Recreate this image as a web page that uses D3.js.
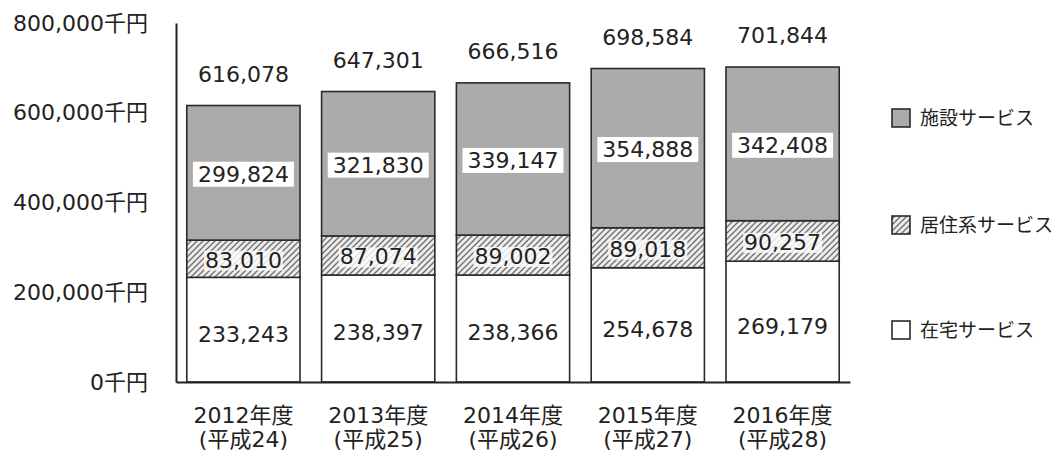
<!DOCTYPE html>
<html>
<head>
<meta charset="utf-8">
<script src="https://cdn.jsdelivr.net/npm/d3@7"></script>
<style>
  body { margin: 0; background: #fff; }
  text { font-family: "DejaVu Sans", "Noto Sans CJK JP", sans-serif; fill: #222; }
</style>
</head>
<body>
<div id="chart"></div>
<script>
var years = ["2012年度", "2013年度", "2014年度", "2015年度", "2016年度"];
var eras = ["(平成24)", "(平成25)", "(平成26)", "(平成27)", "(平成28)"];
var zaitaku = [233243, 238397, 238366, 254678, 269179];
var kyojuu = [83010, 87074, 89002, 89018, 90257];
var shisetsu = [299824, 321830, 339147, 354888, 342408];
var totals = [616078, 647301, 666516, 698584, 701844];
var seriesNames = ["在宅サービス", "居住系サービス", "施設サービス"];
var yTicks = [0, 200000, 400000, 600000, 800000];

var svgWidth = 1059;
var svgHeight = 456;

var svg = d3.select("#chart").append("svg").attr("width", svgWidth).attr("height", svgHeight);

var defs = svg.append("defs");
var hatch = defs.append("pattern").attr("id", "hatch").attr("patternUnits", "userSpaceOnUse")
    .attr("width", 6).attr("height", 6);
hatch.append("rect").attr("width", 6).attr("height", 6).attr("fill", "#ececec");
hatch.append("path").attr("d", "M-1,7 L7,-1 M-1,1 L1,-1 M5,7 L7,5")
    .attr("stroke", "#6e6e6e").attr("stroke-width", 1.3);

var x = d3.scaleBand().domain(years).range([176, 850]).paddingInner(0.16).paddingOuter(0.08);
var y = d3.scaleLinear().domain([0, 800000]).range([382, 23]);

var fills = ["#ffffff", "url(#hatch)", "#ababab"];

var rows = years.map(function(yr, i) {
    return { year: yr, s0: zaitaku[i], s1: kyojuu[i], s2: shisetsu[i] };
});
var stack = d3.stack().keys(["s0", "s1", "s2"]);
var layers = stack(rows);

var layerG = svg.selectAll(".layer").data(layers).enter().append("g").attr("class", "layer")
    .attr("fill", function(d, i) { return fills[i]; });

layerG.selectAll("rect").data(function(d) { return d; }).enter().append("rect")
    .attr("x", function(d) { return x(d.data.year); })
    .attr("y", function(d) { return y(d[1]); })
    .attr("width", x.bandwidth())
    .attr("height", function(d) { return y(d[0]) - y(d[1]); })
    .attr("stroke", "#2a2a2a").attr("stroke-width", 1.6);

// value labels inside segments
var fmt = d3.format(",");
layers.forEach(function(layer, li) {
    layer.forEach(function(d) {
        var cx = x(d.data.year) + x.bandwidth() / 2;
        var cy = (y(d[0]) + y(d[1])) / 2 + (li === 0 ? 4 : 1);
        var t = svg.append("text").attr("x", cx).attr("y", cy).attr("dy", "0.36em")
            .attr("text-anchor", "middle").attr("font-size", "22px")
            .text(fmt(d[1] - d[0]));
        if (li > 0) {
            var bb = t.node().getBBox();
            svg.insert("rect", function() { return t.node(); })
                .attr("x", bb.x - (li === 2 ? 5 : 1)).attr("y", bb.y + (li === 2 ? 0 : 3))
                .attr("width", bb.width + (li === 2 ? 10 : 2)).attr("height", bb.height - (li === 2 ? 0 : 5))
                .attr("fill", "#fff").attr("opacity", li === 2 ? 1 : 0.8);
        }
    });
});

// totals above bars
svg.selectAll(".total").data(years).enter().append("text").attr("class", "total")
    .attr("x", function(d) { return x(d) + x.bandwidth() / 2; })
    .attr("y", function(d, i) { return y(totals[i]) - 24; })
    .attr("text-anchor", "middle").attr("font-size", "22px")
    .text(function(d, i) { return fmt(totals[i]); });

// y axis
var leftAxis = d3.axisLeft(y).tickValues(yTicks).tickSize(0).tickPadding(28)
    .tickFormat(function(d) { return fmt(d) + "千円"; });
var yAxis = svg.append("g").attr("transform", "translate(176,0)").call(leftAxis);
yAxis.select(".domain").attr("stroke", "#222").attr("stroke-width", 2);
yAxis.selectAll("text").attr("font-size", "22px").attr("fill", "#222")
    .attr("font-family", "\"DejaVu Sans\", \"Noto Sans CJK JP\", sans-serif");

// x axis
var bottomAxis = d3.axisBottom(x).tickSize(0).tickSizeOuter(0).tickPadding(0);
var xAxis = svg.append("g").attr("transform", "translate(0,382)").call(bottomAxis);
xAxis.select(".domain").attr("stroke", "#222").attr("stroke-width", 2);
xAxis.selectAll(".tick text").each(function(d, i) {
    var t = d3.select(this).text(null).attr("font-size", "22px").attr("fill", "#222")
        .attr("font-family", "\"DejaVu Sans\", \"Noto Sans CJK JP\", sans-serif").attr("y", 0).attr("dy", null);
    t.append("tspan").attr("x", 0).attr("y", 41).text(years[i]);
    t.append("tspan").attr("x", 0).attr("y", 65).text(eras[i]);
});

// legend
var legendY = [330, 225, 118];
var legend = svg.selectAll(".legend").data(seriesNames).enter().append("g").attr("class", "legend")
    .attr("transform", function(d, i) { return "translate(892," + legendY[i] + ")"; });
legend.append("rect").attr("x", 0).attr("y", -9).attr("width", 18).attr("height", 18)
    .attr("fill", function(d, i) { return fills[i]; })
    .attr("stroke", "#2a2a2a").attr("stroke-width", 1.6);
legend.append("text").attr("x", 28).attr("y", 0).attr("dy", "0.36em").attr("font-size", "19px")
    .text(function(d) { return d; });
</script>
</body>
</html>
